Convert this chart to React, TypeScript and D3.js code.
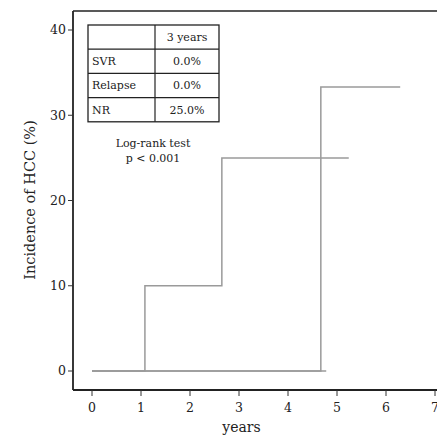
import React from "react";
import * as d3 from "d3";

// step curves (years, %)
const nrTimes = [0, 1.08, 2.65, 5.24];
const nrValues = [0, 10, 25, 25];
const relapseTimes = [0, 4.67, 6.29];
const relapseValues = [0, 33.3, 33.3];
const svrTimes = [0, 4.78];
const svrValues = [0, 0];

const xTicks = [0, 1, 2, 3, 4, 5, 6, 7];
const yTicks = [0, 10, 20, 30, 40];

const tableHeader = "3 years";
const tableRows = ["SVR", "Relapse", "NR"];
const tableValues = ["0.0%", "0.0%", "25.0%"];

const W = 437;
const H = 435;
const font = "'DejaVu Serif', 'Liberation Serif', serif";

const App = () => {
  const x = d3.scaleLinear().domain([0, 7]).range([92, 435]);
  const y = d3.scaleLinear().domain([0, 40]).range([371, 30]);

  const axisLeft = 73;
  const axisBottom = 390;
  const top = 11;

  const line = d3
    .line<[number, number]>()
    .x((d) => x(d[0]))
    .y((d) => y(d[1]))
    .curve(d3.curveStepAfter);

  const series = [
    { t: svrTimes, v: svrValues },
    { t: relapseTimes, v: relapseValues },
    { t: nrTimes, v: nrValues },
  ];

  // table layout
  const tx0 = 88;
  const tx1 = 155;
  const tx2 = 219;
  const ty0 = 25;
  const rowH = 24.2;

  return (
    <svg
      width={W}
      height={H}
      style={{ position: "absolute", left: 0, top: 0, background: "#fff" }}
      fontFamily={font}
    >
      {/* frame */}
      <line x1={axisLeft} x2={W} y1={top} y2={top} stroke="#222" strokeWidth={1.6} />
      <line x1={axisLeft} x2={axisLeft} y1={top} y2={axisBottom} stroke="#222" strokeWidth={1.8} />
      <line x1={axisLeft} x2={W} y1={axisBottom} y2={axisBottom} stroke="#222" strokeWidth={2} />

      {/* y ticks */}
      {yTicks.map((t) => (
        <g key={"y" + t}>
          <line x1={axisLeft - 5} x2={axisLeft} y1={y(t)} y2={y(t)} stroke="#333" strokeWidth={1} />
          <text x={axisLeft - 7} y={y(t)} dy="0.35em" textAnchor="end" fontSize={12.5} fill="#222">
            {t}
          </text>
        </g>
      ))}

      {/* x ticks */}
      {xTicks.map((t) => (
        <g key={"x" + t}>
          <line x1={x(t)} x2={x(t)} y1={axisBottom} y2={axisBottom + 6} stroke="#333" strokeWidth={1} />
          <text x={x(t)} y={412} textAnchor="middle" fontSize={12.5} fill="#222">
            {t}
          </text>
        </g>
      ))}

      <text x={x(3.05)} y={432} textAnchor="middle" fontSize={14} fill="#222">
        years
      </text>
      <text
        transform={`translate(35,${200}) rotate(-90)`}
        textAnchor="middle"
        fontSize={14.5}
        fill="#222"
      >
        Incidence of HCC (%)
      </text>

      {/* curves */}
      {series.map((s, i) => (
        <path
          key={i}
          d={line(s.t.map((t, j) => [t, s.v[j]] as [number, number])) || ""}
          fill="none"
          stroke="#9a9a9a"
          strokeWidth={1.5}
        />
      ))}

      {/* table */}
      <rect x={tx0} y={ty0} width={tx2 - tx0} height={rowH * 4} fill="#fff" stroke="#222" strokeWidth={1.3} />
      <line x1={tx1} x2={tx1} y1={ty0} y2={ty0 + rowH * 4} stroke="#222" strokeWidth={1.2} />
      {[1, 2, 3].map((r) => (
        <line key={r} x1={tx0} x2={tx2} y1={ty0 + rowH * r} y2={ty0 + rowH * r} stroke="#222" strokeWidth={1.2} />
      ))}
      <text x={(tx1 + tx2) / 2} y={ty0 + rowH * 0.5} dy="0.35em" textAnchor="middle" fontSize={11} fill="#222">
        {tableHeader}
      </text>
      {tableRows.map((r, i) => (
        <g key={r}>
          <text x={tx0 + 4} y={ty0 + rowH * (i + 1.5)} dy="0.35em" fontSize={11} fill="#222">
            {r}
          </text>
          <text x={(tx1 + tx2) / 2} y={ty0 + rowH * (i + 1.5)} dy="0.35em" textAnchor="middle" fontSize={11} fill="#222">
            {tableValues[i]}
          </text>
        </g>
      ))}

      <text x={153} y={147} textAnchor="middle" fontSize={11} fill="#222">
        Log-rank test
      </text>
      <text x={153} y={162} textAnchor="middle" fontSize={11} fill="#222">
        p &lt; 0.001
      </text>
    </svg>
  );
};

export default App;
